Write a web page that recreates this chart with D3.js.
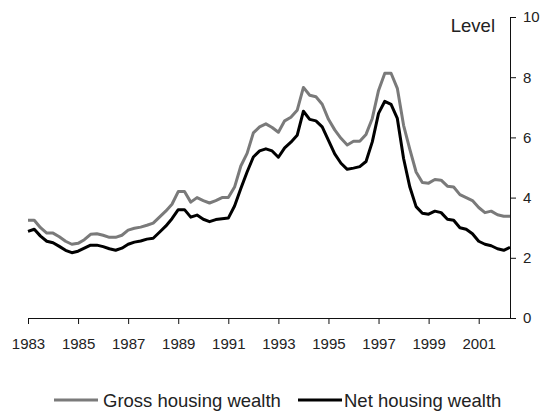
<!DOCTYPE html>
<html>
<head>
<meta charset="utf-8">
<script src="https://cdn.jsdelivr.net/npm/d3@7"></script>
<style>
  html, body { margin: 0; padding: 0; background: #fff; }
  svg { display: block; }
  text { font-family: "Liberation Sans", Arial, sans-serif; fill: #222; }
</style>
</head>
<body>
<svg id="chart" width="542" height="412"></svg>
<script>
// Quarterly data, 1983 Q1 to 2002 Q2
const startYear = 1983;
const gross = [
  3.25, 3.25, 3.0, 2.82, 2.82, 2.7, 2.55, 2.45, 2.48, 2.6,
  2.78, 2.8, 2.75, 2.68, 2.68, 2.75, 2.92, 2.98, 3.02, 3.08,
  3.15, 3.35, 3.55, 3.78, 4.2, 4.2, 3.85, 4.0, 3.9, 3.82,
  3.9, 4.0, 4.0, 4.35, 5.05, 5.47, 6.15, 6.35, 6.45, 6.33,
  6.17, 6.55, 6.67, 6.9, 7.66, 7.4, 7.35, 7.1, 6.6, 6.25,
  5.97, 5.75, 5.87, 5.87, 6.1, 6.63, 7.56, 8.13, 8.13, 7.63,
  6.4, 5.6, 4.85, 4.5, 4.48, 4.6, 4.58, 4.38, 4.35, 4.1,
  4.0, 3.9, 3.67, 3.5, 3.55, 3.43, 3.38, 3.38
];
const net = [
  2.88, 2.95, 2.72, 2.55, 2.5, 2.38, 2.25, 2.17, 2.22, 2.32,
  2.42, 2.42, 2.37, 2.3, 2.25, 2.32, 2.45, 2.52, 2.56, 2.62,
  2.65, 2.85, 3.05, 3.3, 3.6, 3.6, 3.35, 3.42, 3.28, 3.2,
  3.27, 3.3, 3.32, 3.72, 4.3, 4.85, 5.35, 5.55, 5.62, 5.55,
  5.34, 5.65, 5.84, 6.07, 6.87, 6.6, 6.55, 6.35, 5.9, 5.45,
  5.14, 4.94, 4.98, 5.03, 5.2, 5.85, 6.8, 7.2, 7.1, 6.63,
  5.3, 4.35, 3.7, 3.48, 3.45, 3.55, 3.5, 3.28, 3.25, 3.0,
  2.95, 2.8, 2.55, 2.45, 2.4, 2.3, 2.25, 2.35
];
const xTicks = [1983, 1985, 1987, 1989, 1991, 1993, 1995, 1997, 1999, 2001];
const yTicks = [0, 2, 4, 6, 8, 10];
const seriesNames = ["Gross housing wealth", "Net housing wealth"];
const seriesColors = ["#7a7a7a", "#000000"];

const svg = d3.select("#chart");
const mLeft = 28, mRight = 510, mTop = 17, mBottom = 318;

const x = d3.scaleLinear()
  .domain([startYear, startYear + (gross.length - 1) / 4])
  .range([mLeft, mRight]);
const y = d3.scaleLinear().domain([0, 10]).range([mBottom, mTop]);

// X axis
const xAxis = svg.append("g")
  .attr("transform", `translate(0,${mBottom})`)
  .call(d3.axisBottom(x).tickValues(xTicks).tickFormat(d3.format("d"))
        .tickSizeInner(6).tickSizeOuter(0).tickPadding(14));
xAxis.select(".domain").attr("stroke", "#111");
xAxis.selectAll(".tick line").attr("stroke", "#111");
xAxis.selectAll("text").style("font-size", "15px").attr("fill", "#222");

// Y axis (right)
const yAxis = svg.append("g")
  .attr("transform", `translate(${mRight},0)`)
  .call(d3.axisRight(y).tickValues(yTicks)
        .tickSizeInner(6).tickSizeOuter(0).tickPadding(7));
yAxis.select(".domain").attr("stroke", "#111");
yAxis.selectAll(".tick line").attr("stroke", "#111");
yAxis.selectAll("text").style("font-size", "15px").attr("fill", "#222");

svg.append("text")
  .attr("x", 495).attr("y", 32)
  .attr("text-anchor", "end")
  .style("font-size", "18.5px")
  .text("Level");

const line = d3.line()
  .x((d, i) => x(startYear + i / 4))
  .y(d => y(d));

[gross, net].forEach((s, k) => {
  svg.append("path")
    .datum(s)
    .attr("fill", "none")
    .attr("stroke", seriesColors[k])
    .attr("stroke-width", 3)
    .attr("stroke-linejoin", "round")
    .attr("d", line);
});

// Legend
const legendItems = [
  { x1: 54, x2: 98, tx: 103 },
  { x1: 298, x2: 342, tx: 344 }
];
legendItems.forEach((it, k) => {
  svg.append("line")
    .attr("x1", it.x1).attr("x2", it.x2)
    .attr("y1", 400).attr("y2", 400)
    .attr("stroke", seriesColors[k]).attr("stroke-width", 3);
  svg.append("text")
    .attr("x", it.tx).attr("y", 406.5)
    .style("font-size", "18.5px")
    .text(seriesNames[k]);
});
</script>
</body>
</html>
